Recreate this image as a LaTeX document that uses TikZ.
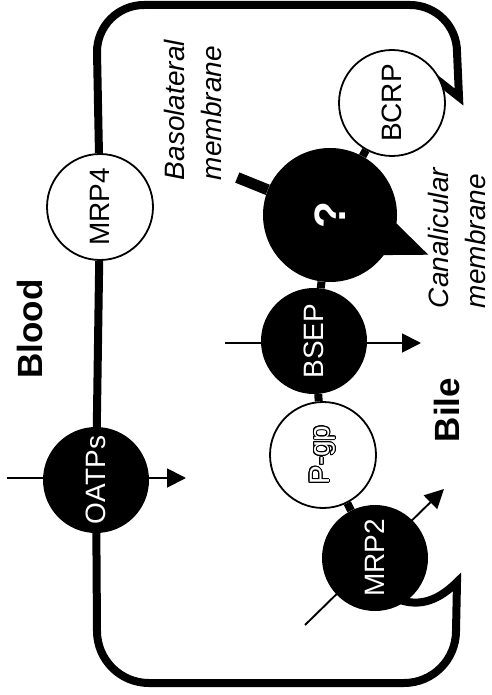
\documentclass[tikz,border=0pt]{standalone}
\usepackage{fontspec}
\setmainfont{Liberation Sans}
\usepackage[copies]{contour}
\contourlength{1pt}
\usetikzlibrary{calc,arrows.meta,backgrounds}
\tikzset{
  membrane/.style={line width=8pt, line join=miter, miter limit=10},
  pump/.style={circle, inner sep=0pt, minimum size=106pt, rotate=90,
    font=\fontsize{28}{30}\selectfont},
  dark/.style={pump, fill=black, text=white},
  light/.style={pump, draw=black, line width=1.8pt, fill=white},
  flux/.style={line width=1.9pt, -{Triangle[length=19pt,width=19pt]}},
  site/.style={rotate=90, font=\bfseries\fontsize{35}{40}\selectfont},
  memlbl/.style={rotate=90, align=left, font=\itshape\fontsize{28}{37}\selectfont}
}

\begin{document}
\begin{tikzpicture}[x=1pt,y=1pt]
\useasboundingbox (0,0) rectangle (491,-695);

% transporters
\node[light] (mrp4) at (100,-207) {MRP4};
\node[dark] (oatps) at (96,-480) {OATPs};
\node[light] (bcrp) at (392,-103) {BCRP};
\node[dark, minimum size=134pt, font=\bfseries\fontsize{44}{46}\selectfont] (q) at (330,-215) {?};
\node[dark] (bsep) at (314,-341) {BSEP};
\node[light, text=white] (pgp) at (323,-455) {\contour{black}{P-gp}};
\node[dark] (mrp2) at (375,-558) {MRP2};

% compartments and membranes
\node[site] (blood) at (30,-329) {Blood};
\node[site] (bile) at (447,-410) {Bile};
\node[memlbl] (baso) at (193,-110) {Basolateral\\membrane};
\node[memlbl] (cana) at (457,-238) {Canalicular\\membrane};

\coordinate (tip1) at (459,-97);
\coordinate (tip2) at (457,-582);
\coordinate (oatps in) at (7,-478);
\coordinate (oatps out) at (186,-478);
\coordinate (bsep in) at (225,-343);
\coordinate (bsep out) at (421,-343);
\coordinate (mrp2 in) at (305,-625);
\coordinate (mrp2 out) at (444,-489);

\begin{pgfonlayer}{background}
% cell outline
\draw[membrane] (mrp4) -- (97,-52) arc[start angle=180, end angle=90, radius=47]
  -- (410,-5) arc[start angle=90, end angle=0, radius=47]
  -- (tip1) -- ($(bcrp)+(36:48)$);
\draw[membrane] (oatps) -- (97,-631) arc[start angle=180, end angle=270, radius=52]
  -- (404,-683) arc[start angle=270, end angle=360, radius=52]
  -- (tip2) to[out=225, in=-20] ($(mrp2)+(-60:48)$);
\draw[membrane] (mrp4) -- (oatps);
\draw[membrane] (bcrp) -- (q) -- (bsep) -- (pgp) -- (mrp2);

% unknown transporter
\draw[line width=11pt] (q) -- ($(q)+(158:100)$);
\fill ($(q)+(-2:60)$) -- ($(q)+(-22:106)$) -- ($(q)+(-42:60)$) -- cycle;

% substrate flux
\draw[flux] (oatps in) -- (oatps out);
\draw[flux] (bsep in) -- (bsep out);
\draw[flux] (mrp2 in) -- (mrp2 out);
\end{pgfonlayer}
\end{tikzpicture}
\end{document}
